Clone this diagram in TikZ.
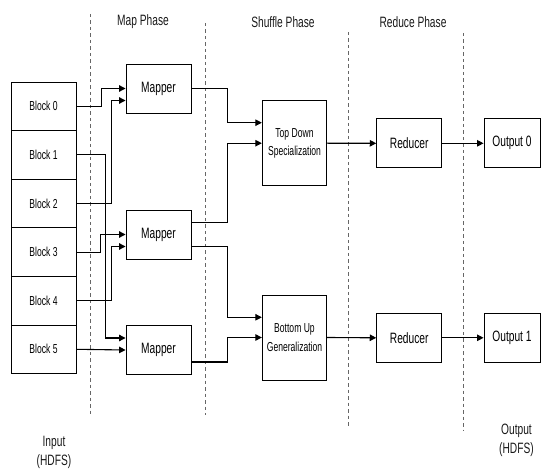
\documentclass[tikz,border=0pt]{standalone}
\usepackage{fontspec}
\setmainfont{Liberation Sans}
\usetikzlibrary{arrows.meta,positioning,calc}
\newcommand{\sqs}[1]{\scalebox{0.66}[1]{#1}}
\newcommand{\sqb}[1]{\scalebox{0.68}[1]{#1}}
\tikzset{
  box/.style={draw=black, line width=0.9pt, fill=white, minimum width=65pt, minimum height=49pt, inner sep=0pt, align=center},
  small/.style={font=\fontsize{13}{18.3}\selectfont},
  big/.style={font=\fontsize{15}{19}\selectfont},
  arr/.style={draw=black, line width=1.1pt, -{Triangle[length=6.5pt,width=6.5pt]}},
  phase/.style={draw=black!60, line width=0.8pt, dash pattern=on 3.5pt off 3pt},
  lbl/.style={inner sep=0pt, align=center, text=black!90}
}
\begin{document}
\begin{tikzpicture}[x=1pt,y=-1pt]
\useasboundingbox (0,0) rectangle (541,470);
% phase separators
\coordinate (d1a) at (90.5,14);  \coordinate (d1b) at (90.5,415);
\coordinate (d2a) at (205,23);   \coordinate (d2b) at (205,415);
\coordinate (d3a) at (348,32);   \coordinate (d3b) at (348,428);
\coordinate (d4a) at (463.5,33); \coordinate (d4b) at (463.5,430);
\draw[phase] (d1a) -- (d1b);
\draw[phase] (d2a) -- (d2b);
\draw[phase] (d3a) -- (d3b);
\draw[phase] (d4a) -- (d4b);
% phase labels
\node[lbl,big] (lmap) at (143,22) {\sqb{Map Phase}};
\node[lbl,big] (lshuf) at (283,22) {\sqb{Shuffle Phase}};
\node[lbl,big] (lred) at (413,22) {\sqb{Reduce Phase}};
% blocks
\node[box,small,minimum height=48.6pt] (b0) at (43.5,106.3) {\sqs{Block 0}};
\node[box,small,minimum height=48.6pt] (b1) at (43.5,154.9) {\sqs{Block 1}};
\node[box,small,minimum height=48.6pt] (b2) at (43.5,203.5) {\sqs{Block 2}};
\node[box,small,minimum height=48.6pt] (b3) at (43.5,252.1) {\sqs{Block 3}};
\node[box,small,minimum height=48.6pt] (b4) at (43.5,300.7) {\sqs{Block 4}};
\node[box,small,minimum height=48.6pt] (b5) at (43.5,349.3) {\sqs{Block 5}};
% mappers
\node[box,big] (m1) at (158.5,88.5) {\sqb{Mapper}};
\node[box,big] (m2) at (158.5,234.5) {\sqb{Mapper}};
\node[box,big] (m3) at (158.5,350) {\sqb{Mapper}};
% shuffle
\node[box,small,minimum width=64.4pt,minimum height=85pt] (td) at (294.5,143.2) {\sqs{Top Down}\\\sqs{Specialization}};
\node[box,small,minimum width=64.4pt,minimum height=85pt] (bu) at (294.5,337.5) {\sqs{Bottom Up}\\\sqs{Generalization}};
% reducers
\node[box,big] (r1) at (409.2,143.3) {\sqb{Reducer}};
\node[box,big] (r2) at (409.2,337.8) {\sqb{Reducer}};
% outputs
\node[box,big,minimum width=56pt] (o0) at (512,143.3) {\sqb{Output 0}};
\node[box,big,minimum width=56pt] (o1) at (512,337.8) {\sqb{Output 1}};
% bottom labels
\node[lbl,big] (lin) at (54,452) {\sqb{Input}\\\sqb{(HDFS)}};
\node[lbl,big] (lout) at (516.5,440.5) {\sqb{Output}\\\sqb{(HDFS)}};
% block -> mapper
\draw[arr] (b0.east) -- ++(25,0) |- (m1.west);
\draw[arr] (b2.east) -- ++(35,0) |- ([yshift=-12pt]m1.west);
\draw[arr] (b1.east) -- ++(29,0) |- ([yshift=12pt]m3.west);
\draw[arr] (b3.east) -- ++(24,0) |- (m2.west);
\draw[arr] (b4.east) -- ++(35,0) |- ([yshift=-12pt]m2.west);
\draw[arr] (b5.east) -- (m3.west);
% mapper -> shuffle
\draw[arr] (m1.east) -- ++(35.7,0) |- ([yshift=20.5pt]td.west);
\draw[arr] ([yshift=12.2pt]m2.east) -- ++(35.7,0) |- (td.west);
\draw[arr] ([yshift=-12pt]m2.east) -- ++(35.7,0) |- ([yshift=20.2pt]bu.west);
\draw[arr] ([yshift=-12pt]m3.east) -- ++(35.7,0) |- (bu.west);
% shuffle -> reduce -> output
\draw[arr] (td.east) -- (r1.west);
\draw[arr] (bu.east) -- (r2.west);
\draw[arr] (r1.east) -- (o0.west);
\draw[arr] (r2.east) -- (o1.west);
\end{tikzpicture}
\end{document}
